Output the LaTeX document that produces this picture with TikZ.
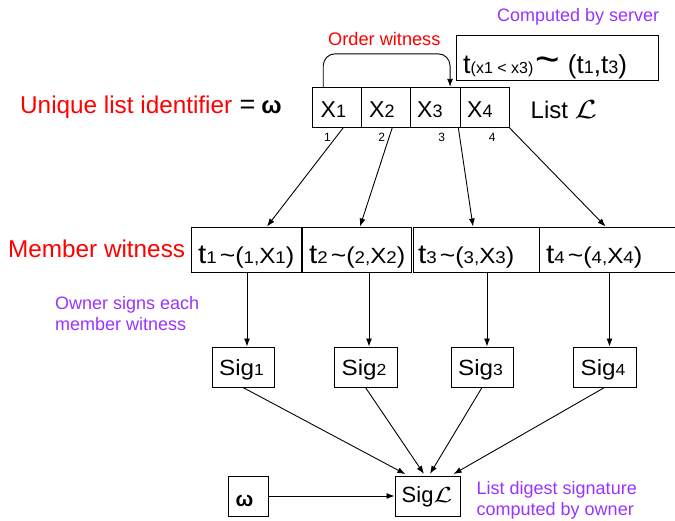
\documentclass[tikz,border=0pt]{standalone}
\usepackage{fontspec}
\usepackage{graphicx}
\setmainfont{Liberation Sans}
\newfontfamily\widesans[FakeStretch=1.1]{Liberation Sans}
\usetikzlibrary{arrows.meta}
\definecolor{witnessred}{RGB}{255,0,0}
\definecolor{notepurple}{RGB}{153,51,255}
\newcommand\setsz[2]{{\fontsize{#1}{#1}\selectfont #2}}
\newcommand\scriptL{\scalebox{1.3}[1.05]{$\mathcal{L}$}}
\newcommand\membertext[2]{{\widesans\setsz{27}{t}\setsz{17}{#1}\hspace{3pt}\setsz{24}{\textasciitilde}\setsz{23}{(}\setsz{17}{#2,}\setsz{22}{X}\setsz{17}{#1}\setsz{23}{)}}}
\newcommand\listtext[1]{\setsz{23}{X}\setsz{18}{#1}}
\newcommand\sigtext[1]{{\widesans\setsz{22}{Sig}\setsz{16}{#1}}}

\begin{document}
\begin{tikzpicture}[x=1pt,y=-1pt,
  box/.style={draw, line width=1pt, inner sep=0pt},
  cell/.style={box, minimum width=49pt, minimum height=40pt},
  member/.style={box, minimum height=45pt},
  sigbox/.style={box, minimum width=62pt, minimum height=40pt},
  arr/.style={line width=0.9pt, -{Latex[length=8pt,width=6pt]}},
  txt/.style={inner sep=0pt, anchor=base west},
  note/.style={txt, text=notepurple, font=\fontsize{18}{21}\selectfont},
  heading/.style={txt, text=witnessred, font=\fontsize{24.3}{24.3}\selectfont},
  idx/.style={inner sep=0pt, anchor=base, font=\fontsize{12}{12}\selectfont},
]
\useasboundingbox (0,0) rectangle (675,520);

% ---- the list and its order witness ----
\node[cell] (L1) at (337.2,107.3) {};
\node[cell] (L2) at (386.2,107.3) {};
\node[cell, minimum width=49.3pt] (L3) at (435.35,107.3) {};
\node[cell] (L4) at (484.5,107.3) {};
\node[txt] (L1t) at (320.5,117.3) {\listtext{1}};
\node[txt] (L2t) at (369,117.3) {\listtext{2}};
\node[txt] (L3t) at (417,117.3) {\listtext{3}};
\node[txt] (L4t) at (467,117.3) {\listtext{4}};
\node[txt, font=\fontsize{24}{24}\selectfont] (listname) at (530.5,118.3) {List \scriptL};

\node[idx] (i1) at (327.5,141.7) {1};
\node[idx] (i2) at (381.7,141.7) {2};
\node[idx] (i3) at (441.7,141.7) {3};
\node[idx] (i4) at (492.3,141.7) {4};

\node[box, minimum width=201.5pt, minimum height=45.5pt] (O) at (557.25,57.75) {};
\node[txt] (Ot) at (463,73.3) {\setsz{27}{t}\setsz{16}{(x1 < x3)}\hspace{2pt}\setsz{42}{\textasciitilde}\hspace{8pt}\setsz{26}{(t}\setsz{18}{1}\setsz{26}{,t}\setsz{18}{3}\setsz{26}{)}};
\node[note] (server) at (497,21) {Computed by server};
\node[txt, text=witnessred, font=\fontsize{18.2}{18.2}\selectfont] (orderlbl) at (328,45) {Order witness};
\draw[arr, rounded corners=12pt] ([xshift=-14pt]L1.north) -- ++(0,-33) -| ([xshift=14.7pt]L3.north);

\node[heading] (uid) at (20,113.3) {Unique list identifier};
\node[txt] (uideq) at (239.5,113.3) {\setsz{27}{=}\hspace{6pt}\setsz{24}{\textbf{ω}}};

% ---- member witnesses ----
\node[member, minimum width=110pt] (M1) at (246,249.5) {};
\node[member, minimum width=109pt] (M2) at (357,249.5) {};
\node[member, minimum width=126pt] (M3) at (476,249.5) {};
\node[member, minimum width=140pt] (M4) at (609,249.5) {};
\node[txt] (M1t) at (198,263.5) {\membertext{1}{1}};
\node[txt] (M2t) at (309,263.5) {\membertext{2}{2}};
\node[txt] (M3t) at (418,263.5) {\membertext{3}{3}};
\node[txt] (M4t) at (546,263.5) {\membertext{4}{4}};
\node[heading] (mw) at (8,257.5) {Member witness};
\node[note, align=left] (owner) at (55,330.5) {Owner signs each\\member witness};

\draw[arr] ([xshift=6pt]L1.south) -- ([xshift=21pt]M1.north);
\draw[arr] ([xshift=6pt]L2.south) -- ([xshift=3pt]M2.north);
\draw[arr] ([xshift=23pt]L3.south) -- ([xshift=-3pt]M3.north);
\draw[arr] (L4.south east) -- ([xshift=-3.5pt]M4.north);

% ---- signatures ----
\node[sigbox] (S1) at (243,367) {};
\node[sigbox, minimum width=63pt] (S2) at (365.5,367) {};
\node[sigbox] (S3) at (482,367) {};
\node[sigbox, minimum width=63pt] (S4) at (604.5,367) {};
\node[anchor=base, inner sep=0pt] (S1t) at (241.5,375.5) {\sigtext{1}};
\node[anchor=base, inner sep=0pt] (S2t) at (364,375.5) {\sigtext{2}};
\node[anchor=base, inner sep=0pt] (S3t) at (480.5,375.5) {\sigtext{3}};
\node[anchor=base, inner sep=0pt] (S4t) at (603,375.5) {\sigtext{4}};

\draw[arr] ([xshift=1pt]M1.south) -- ([xshift=1pt]M1.south |- S1.north);
\draw[arr] ([xshift=12pt]M2.south) -- ([xshift=12pt]M2.south |- S2.north);
\draw[arr] ([xshift=11pt]M3.south) -- ([xshift=11pt]M3.south |- S3.north);
\draw[arr] ([xshift=0.5pt]M4.south) -- ([xshift=0.5pt]M4.south |- S4.north);

\node[sigbox, minimum width=65pt] (SL) at (427.5,496) {};
\node[txt] (SLt) at (401.5,502) {\setsz{22}{Sig}\setsz{22}{\scriptL}};
\node[box, minimum width=40pt, minimum height=40pt] (W) at (248,496) {};
\node[txt] (Wt) at (235.5,506.7) {\setsz{21}{\textbf{ω}}};

\draw[arr, shorten >=3pt] (S1.south) -- ([xshift=-19.5pt]SL.north);
\draw[arr, shorten >=2pt] (S2.south) -- ([xshift=-2.5pt]SL.north);
\draw[arr, shorten >=2pt] (S3.south) -- ([xshift=1.5pt]SL.north);
\draw[arr, shorten >=3pt] (S4.south) -- ([xshift=23.5pt]SL.north);
\draw[arr] (W.east) -- (SL.west);

\node[note, align=left] (digest) at (476.5,515) {List digest signature\\computed by owner};
\end{tikzpicture}
\end{document}
